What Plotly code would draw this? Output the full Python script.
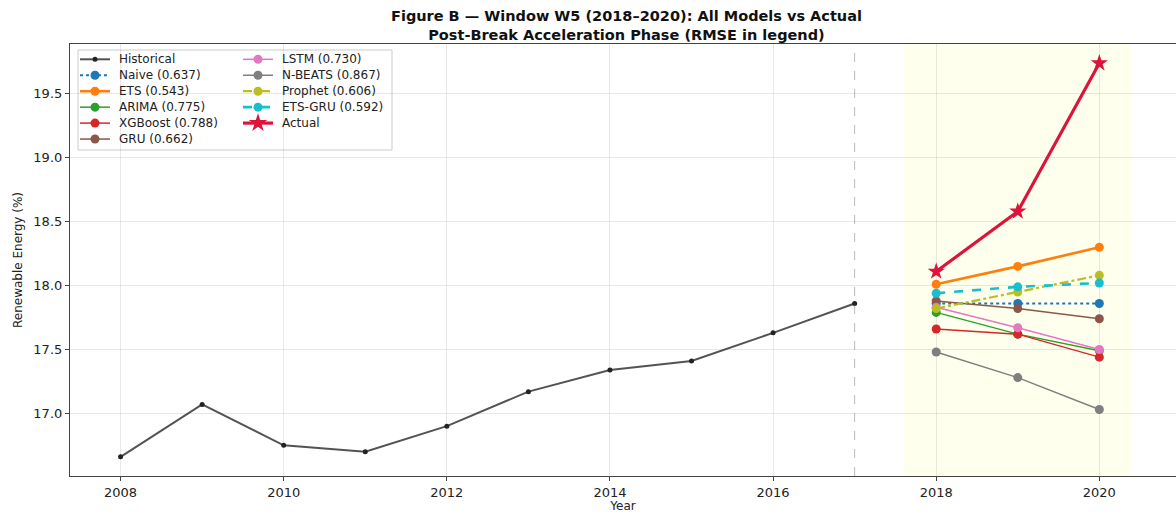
import plotly.graph_objects as go

hist_years = [2008, 2009, 2010, 2011, 2012, 2013, 2014, 2015, 2016, 2017]
hist_vals = [16.66, 17.07, 16.75, 16.70, 16.90, 17.17, 17.34, 17.41, 17.63, 17.86]

fc_years = [2018, 2019, 2020]
actual = [18.11, 18.58, 19.74]
naive = [17.86, 17.86, 17.86]
ets = [18.01, 18.15, 18.30]
arima = [17.79, 17.62, 17.49]
xgboost = [17.66, 17.62, 17.44]
gru = [17.88, 17.82, 17.74]
lstm = [17.83, 17.67, 17.50]
nbeats = [17.48, 17.28, 17.03]
prophet = [17.82, 17.95, 18.08]
etsgru = [17.94, 17.99, 18.02]

model_names = ["Naive", "ETS", "ARIMA", "XGBoost", "GRU", "LSTM", "N-BEATS", "Prophet", "ETS-GRU"]
model_rmse = [0.637, 0.543, 0.775, 0.788, 0.662, 0.730, 0.867, 0.606, 0.592]
model_vals = [naive, ets, arima, xgboost, gru, lstm, nbeats, prophet, etsgru]

title_lines = ["Figure B — Window W5 (2018–2020): All Models vs Actual",
               "Post-Break Acceleration Phase (RMSE in legend)"]

colors = ["#1f77b4", "#ff7f0e", "#2ca02c", "#d62728", "#8c564b", "#e377c2", "#7f7f7f", "#bcbd22", "#17becf"]
dashes = ["dot", "solid", "solid", "solid", "solid", "solid", "solid", "dashdot", "dash"]
widths = [2, 2.6, 1.5, 1.5, 1.5, 1.5, 1.5, 2.2, 2.6]

W, H = 1176, 513
L, R, T, B = 70, 0, 44, 37
pw, ph = W - L - R, H - T - B

def px_x(x):
    return (x - L) / pw

def px_y(y):
    return 1 - (y - T) / ph

font = "DejaVu Sans"
fig = go.Figure()

fig.add_vrect(x0=2017.6, x1=2020.4, fillcolor="rgba(255,255,215,0.42)", line_width=0, layer="below")
fig.add_vline(x=2017, line=dict(color="rgba(120,120,120,0.5)", width=1, dash="dash"))

hist_line = dict(color="rgba(40,40,40,0.8)", width=2)
hist_marker = dict(size=5, color="#222222")
fig.add_trace(go.Scatter(x=hist_years, y=hist_vals, mode="lines+markers", name="Historical",
                         line=hist_line, marker=hist_marker, showlegend=False))

entries = [("Historical", hist_line, hist_marker)]
for name, rmse, vals, col, dash, w in zip(model_names, model_rmse, model_vals, colors, dashes, widths):
    ln = dict(color=col, width=w, dash=dash)
    mk = dict(size=9, color=col)
    label = f"{name} ({rmse:.3f})"
    fig.add_trace(go.Scatter(x=fc_years, y=vals, mode="lines+markers", name=label,
                             line=ln, marker=mk, showlegend=False))
    entries.append((label, ln, mk))

act_line = dict(color="#dc143c", width=3.2)
act_marker = dict(size=13, symbol="star", color="#dc143c")
fig.add_trace(go.Scatter(x=fc_years, y=actual, mode="lines+markers", name="Actual",
                         line=act_line, marker=act_marker, showlegend=False))
entries.append(("Actual", act_line, act_marker))

# ---- legend (two columns, drawn on a pixel overlay axis) ----
fig.add_shape(type="rect", xref="paper", yref="paper",
              x0=px_x(78), x1=px_x(392), y0=px_y(150), y1=px_y(50),
              line=dict(color="#cccccc", width=1), fillcolor="rgba(255,255,255,0.85)", layer="below")

row0, row_gap = 59.3, 15.95
cols = [(80, 110, 117), (243, 273, 280)]
for i, (label, ln, mk) in enumerate(entries):
    c = 0 if i < 6 else 1
    r = i if i < 6 else i - 6
    x0, x1, xt = cols[c]
    yy = row0 + r * row_gap
    fig.add_trace(go.Scatter(x=[x0, x1], y=[yy, yy], mode="lines", line=ln,
                             xaxis="x2", yaxis="y2", showlegend=False, hoverinfo="skip"))
    mk2 = dict(mk)
    if mk2.get("symbol") == "star":
        mk2["size"] = 14
    else:
        mk2["size"] = 9 if i > 0 else 5
    fig.add_trace(go.Scatter(x=[(x0 + x1) / 2], y=[yy], mode="markers", marker=mk2,
                             xaxis="x2", yaxis="y2", showlegend=False, hoverinfo="skip"))
    fig.add_annotation(x=px_x(xt), y=px_y(yy), xref="paper", yref="paper", text=label,
                       showarrow=False, xanchor="left", yanchor="middle",
                       font=dict(family=font, size=12, color="#222"))

# ---- title (two lines, one text block) ----
fig.add_annotation(x=px_x(626), y=px_y(25.5), xref="paper", yref="paper",
                   text="<b>" + "<br>".join(title_lines) + "</b>", showarrow=False,
                   xanchor="center", yanchor="middle", align="center",
                   font=dict(family=font, size=14.5, color="#111"))

fig.update_layout(
    width=W, height=H,
    margin=dict(l=L, r=R, t=T, b=B),
    paper_bgcolor="white", plot_bgcolor="white",
    font=dict(family=font, size=12, color="#222"),
    showlegend=False,
    xaxis=dict(range=[2007.38, 2020.94], tickvals=[2008, 2010, 2012, 2014, 2016, 2018, 2020],
               showgrid=True, gridcolor="rgba(0,0,0,0.09)", gridwidth=1,
               showline=True, linecolor="#444", linewidth=1.2, mirror=True,
               ticks="outside", ticklen=4, tickcolor="#444", zeroline=False,
               title=dict(text="Year", font=dict(size=12), standoff=4),
               tickfont=dict(size=13)),
    yaxis=dict(range=[16.51, 19.89], tickvals=[17.0, 17.5, 18.0, 18.5, 19.0, 19.5],
               tickformat=".1f",
               showgrid=True, gridcolor="rgba(0,0,0,0.09)", gridwidth=1,
               showline=True, linecolor="#444", linewidth=1.2, mirror=False,
               ticks="outside", ticklen=4, tickcolor="#444", zeroline=False,
               title=dict(text="Renewable Energy (%)", font=dict(size=12), standoff=8),
               tickfont=dict(size=13)),
    xaxis2=dict(overlaying="x", range=[L, W], visible=False, fixedrange=True),
    yaxis2=dict(overlaying="y", range=[H - B, T], visible=False, fixedrange=True),
)

fig.write_html("out.html")
